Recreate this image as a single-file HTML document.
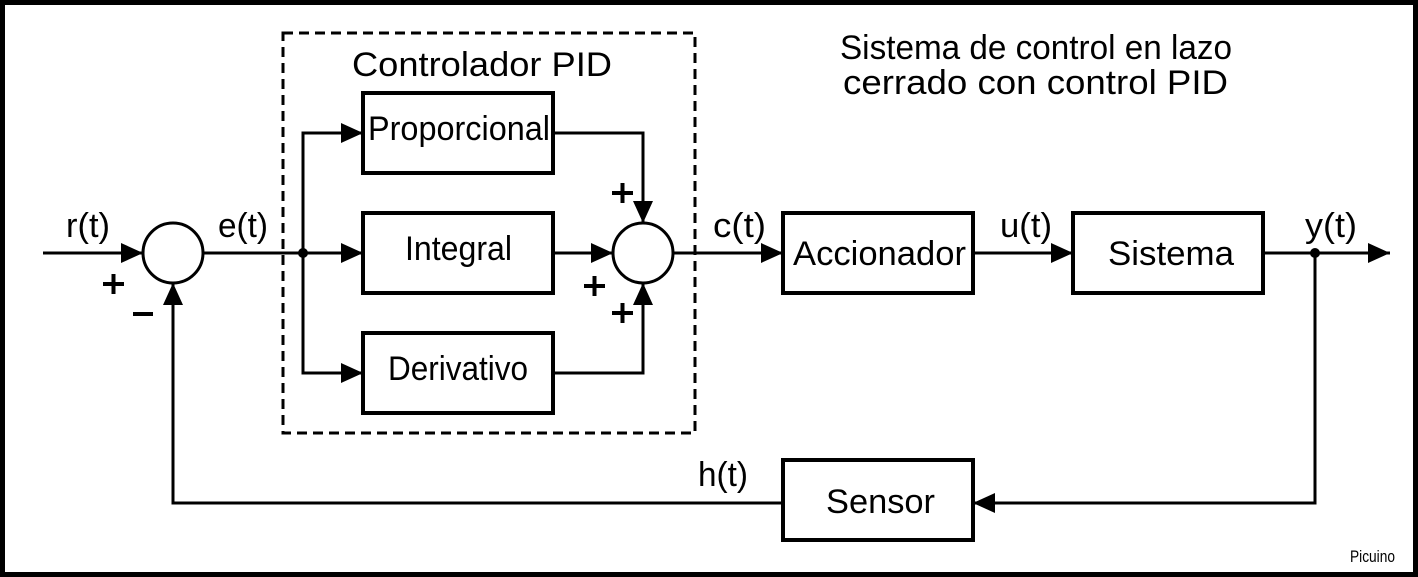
<!DOCTYPE html>
<html><head><style>
html,body{margin:0;padding:0;background:#fff}
svg{display:block}
text{font-family:"Liberation Sans",Arial,sans-serif;fill:#000}
</style></head><body>
<svg width="1418" height="577" viewBox="0 0 1418 577" xmlns="http://www.w3.org/2000/svg">
<defs>
<marker id="b" viewBox="0 0 22 22" refX="22" refY="11" markerWidth="22" markerHeight="22" markerUnits="userSpaceOnUse" orient="auto">
<path d="M0,1 L22,11 L0,21 z" fill="#000"/></marker>
</defs>
<rect x="2.5" y="2.5" width="1413" height="572" fill="#fff" stroke="#000" stroke-width="5"/>
<rect x="283" y="33" width="412" height="400" fill="none" stroke="#000" stroke-width="3" stroke-dasharray="10,6"/>
<g fill="none" stroke="#000" stroke-width="4">
<rect x="363" y="93" width="190" height="80"/>
<rect x="363" y="213" width="190" height="80"/>
<rect x="363" y="333" width="190" height="80"/>
<rect x="783" y="213" width="190" height="80"/>
<rect x="1073" y="213" width="190" height="80"/>
<rect x="783" y="460" width="190" height="80"/>
<circle cx="173" cy="253" r="30" stroke-width="3"/>
<circle cx="643" cy="253" r="30" stroke-width="3"/>
</g>
<g fill="none" stroke="#000" stroke-width="3">
<path d="M43,253 H143" marker-end="url(#b)"/>
<path d="M203,253 H363" marker-end="url(#b)"/>
<path d="M363,133 H303 V373 H363" />
<path d="M303,133 H363" marker-end="url(#b)"/>
<path d="M303,373 H363" marker-end="url(#b)"/>
<path d="M553,133 H643 V223" marker-end="url(#b)"/>
<path d="M553,253 H613" marker-end="url(#b)"/>
<path d="M553,373 H643 V283" marker-end="url(#b)"/>
<path d="M673,253 H783" marker-end="url(#b)"/>
<path d="M973,253 H1073" marker-end="url(#b)"/>
<path d="M1263,253 H1390" marker-end="url(#b)"/>
<path d="M1315,253 V503 H973" marker-end="url(#b)"/>
<path d="M783,503 H173 V283" marker-end="url(#b)"/>
</g>
<g stroke="#000" stroke-width="4">
<path d="M103,284 H124 M113.5,274 V294"/>
<path d="M612,193 H633 M622.5,183 V203"/>
<path d="M584,286 H605 M594.5,276 V296"/>
<path d="M612,313 H633 M622.5,303 V323"/>
<path d="M133,314 H153"/>
</g>
<circle cx="303" cy="253" r="5" fill="#000"/>
<circle cx="1315" cy="253" r="5" fill="#000"/>
<g font-size="34">
<text x="368" y="140" textLength="182" lengthAdjust="spacingAndGlyphs">Proporcional</text>
<text x="405" y="260" textLength="107" lengthAdjust="spacingAndGlyphs">Integral</text>
<text x="388" y="380" textLength="140" lengthAdjust="spacingAndGlyphs">Derivativo</text>
<text x="793" y="265" textLength="173" lengthAdjust="spacingAndGlyphs">Accionador</text>
<text x="1108" y="265" textLength="126" lengthAdjust="spacingAndGlyphs">Sistema</text>
<text x="826" y="513" textLength="109" lengthAdjust="spacingAndGlyphs">Sensor</text>
<text x="352" y="76" textLength="260" lengthAdjust="spacingAndGlyphs">Controlador PID</text>
<text x="840" y="59" textLength="392" lengthAdjust="spacingAndGlyphs">Sistema de control en lazo</text>
<text x="843" y="94" textLength="385" lengthAdjust="spacingAndGlyphs">cerrado con control PID</text>
<text x="66" y="237" textLength="44" lengthAdjust="spacingAndGlyphs">r(t)</text>
<text x="218" y="237" textLength="50" lengthAdjust="spacingAndGlyphs">e(t)</text>
<text x="713" y="237" textLength="53" lengthAdjust="spacingAndGlyphs">c(t)</text>
<text x="1000" y="237" textLength="52" lengthAdjust="spacingAndGlyphs">u(t)</text>
<text x="1305" y="237" textLength="52" lengthAdjust="spacingAndGlyphs">y(t)</text>
<text x="698" y="486" textLength="50" lengthAdjust="spacingAndGlyphs">h(t)</text>
</g>
<text x="1350" y="562" font-size="17" textLength="45" lengthAdjust="spacingAndGlyphs">Picuino</text>
</svg>
</body></html>
